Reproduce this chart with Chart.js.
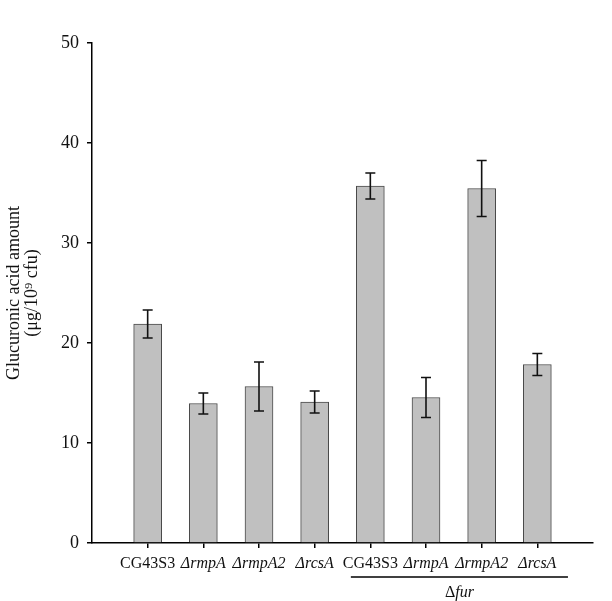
<!DOCTYPE html>
<html>
<head>
<meta charset="utf-8">
<script src="https://cdn.jsdelivr.net/npm/chart.js@4/dist/chart.umd.min.js"></script>
<style>
  html, body { margin: 0; padding: 0; background: #fff; }
  #wrap { width: 612px; height: 601px; }
</style>
</head>
<body>
<div id="wrap"><canvas id="chart"></canvas></div>
<script>
// Datos del gráfico
const strains = ['CG43S3', 'ΔrmpA', 'ΔrmpA2', 'ΔrcsA', 'CG43S3', 'ΔrmpA', 'ΔrmpA2', 'ΔrcsA'];
const amounts = [21.9, 13.95, 15.65, 14.1, 35.7, 14.55, 35.45, 17.85];
const errors = [1.4, 1.05, 2.45, 1.1, 1.3, 2.0, 2.8, 1.1];
const yTicks = [0, 10, 20, 30, 40, 50];
const groupLabel = 'fur';
const groupFirst = 4; // índice del primer mutante Δfur
const groupLast = 7;

const serif = '"Liberation Serif", "Times New Roman", serif';

// Barras de error dibujadas con las escalas del gráfico
const errorBars = {
    id: 'errorBars',
    afterDatasetsDraw(chart) {
        const x = chart.scales.x;
        const y = chart.scales.y;
        const c = chart.ctx;
        c.save();
        c.strokeStyle = '#111';
        c.lineWidth = 1.6;
        amounts.forEach((v, i) => {
            const px = x.getPixelForValue(i + 1);
            const top = y.getPixelForValue(v + errors[i]);
            const bot = y.getPixelForValue(v - errors[i]);
            c.beginPath();
            c.moveTo(px, top); c.lineTo(px, bot);
            c.moveTo(px - 5, top); c.lineTo(px + 5, top);
            c.moveTo(px - 5, bot); c.lineTo(px + 5, bot);
            c.stroke();
        });
        c.restore();
    }
};

// Línea y etiqueta del grupo Δfur
const groupMark = {
    id: 'groupMark',
    afterDraw(chart) {
        const x = chart.scales.x;
        const c = chart.ctx;
        const x1 = x.getPixelForValue(groupFirst + 1 - 0.35);
        const x2 = x.getPixelForValue(groupLast + 1 + 0.55);
        const ly = x.top + 34;
        c.save();
        c.strokeStyle = '#000';
        c.lineWidth = 1.5;
        c.beginPath();
        c.moveTo(x1, ly); c.lineTo(x2, ly);
        c.stroke();
        c.fillStyle = '#111';
        c.textBaseline = 'middle';
        c.textAlign = 'left';
        const d = 'Δ';
        c.font = 'italic 16px ' + serif;
        const wf = c.measureText(groupLabel).width;
        c.font = '16px ' + serif;
        const wd = c.measureText(d).width;
        const sx = (x1 + x2) / 2 - (wd + wf) / 2;
        c.fillText(d, sx, ly + 16);
        c.font = 'italic 16px ' + serif;
        c.fillText(groupLabel, sx + wd, ly + 16);
        c.restore();
    }
};

new Chart(document.getElementById('chart'), {
    type: 'bar',
    data: {
        datasets: [{
            data: amounts.map((v, i) => ({ x: i + 1, y: v })),
            backgroundColor: '#c0c0c0',
            borderColor: '#4a4a4a',
            borderWidth: 1,
            barThickness: 28
        }]
    },
    options: {
        responsive: true,
        maintainAspectRatio: false,
        animation: false,
        layout: { padding: { top: 43, right: 19, left: 0, bottom: 0 } },
        plugins: { legend: { display: false }, tooltip: { enabled: false } },
        scales: {
            x: {
                type: 'linear',
                min: 0,
                max: 9,
                offset: false,
                afterBuildTicks: (s) => { s.ticks = strains.map((l, i) => ({ value: i + 1 })); },
                afterFit: (s) => { s.height = 58; },
                border: { color: '#000', width: 1.5 },
                grid: { offset: false, drawOnChartArea: false, drawTicks: true, tickLength: 5, color: '#000', lineWidth: 1.5 },
                ticks: {
                    autoSkip: false,
                    maxRotation: 0,
                    padding: 6,
                    color: '#111',
                    font: (ctx) => ({
                        family: serif,
                        size: 16,
                        style: (ctx.index === 0 || ctx.index === 4) ? 'normal' : 'italic'
                    }),
                    callback: (v) => strains[v - 1]
                }
            },
            y: {
                min: 0,
                max: 50,
                afterBuildTicks: (s) => { s.ticks = yTicks.map(v => ({ value: v })); },
                afterFit: (s) => { s.width = 92; },
                border: { color: '#000', width: 1.5 },
                grid: { drawOnChartArea: false, drawTicks: true, tickLength: 5, color: '#000', lineWidth: 1.5 },
                ticks: { padding: 8, color: '#111', font: { family: serif, size: 18 } },
                title: {
                    display: true,
                    text: ['Glucuronic acid amount', '(μg/10⁹ cfu)'],
                    color: '#111',
                    font: { family: serif, size: 18, lineHeight: 1.0 },
                    padding: { top: 5, bottom: 0 }
                }
            }
        }
    },
    plugins: [errorBars, groupMark]
});
</script>
</body>
</html>
